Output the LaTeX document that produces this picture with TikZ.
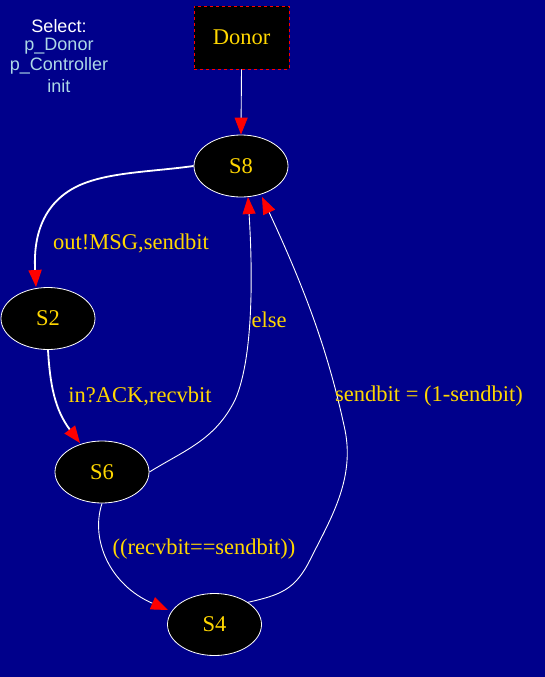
\documentclass[tikz,border=0pt]{standalone}
\usepackage{fontspec}
\setmainfont{Liberation Serif}
\newfontfamily\arialfont{Liberation Sans}
\usetikzlibrary{shapes.geometric,arrows.meta}
\definecolor{bgnavy}{RGB}{0,0,139}
\definecolor{lbl}{RGB}{255,215,0}
\definecolor{selblue}{RGB}{173,216,230}
\tikzset{
  state/.style={ellipse,draw=white,line width=0.8pt,fill=black,minimum width=94pt,minimum height=62pt,inner sep=0pt,text=lbl,font=\fontsize{22.5}{24}\selectfont},
  procbox/.style={rectangle,draw=red,dashed,line width=0.8pt,fill=black,minimum width=95pt,minimum height=63pt,inner sep=0pt,text=lbl,font=\fontsize{22.5}{24}\selectfont},
  redtip/.tip={Triangle[length=17pt,width=13pt,fill=red,color=red]},
  trans/.style={draw=white,line width=0.9pt,-redtip},
  thicktrans/.style={trans,line width=1.8pt},
  elbl/.style={text=lbl,font=\fontsize{22.5}{24}\selectfont,inner sep=0pt},
  seltxt/.style={font=\arialfont\fontsize{18}{20}\selectfont,inner sep=0pt}
}
\begin{document}
\begin{tikzpicture}[x=1pt,y=-1pt]
\fill[bgnavy] (0,0) rectangle (545,677);
\useasboundingbox (0,0) rectangle (545,677);
\node[seltxt,text=white] (sel) at (59,26) {Select:};
\node[seltxt,text=selblue] (pd) at (59,46) {p\_Donor};
\node[seltxt,text=selblue] (pc) at (59,66) {p\_Controller};
\node[seltxt,text=selblue] (pi) at (59,86) {init};

\node[procbox] (donor) at (241.5,37.5) {Donor};
\node[state] (s8) at (241,166) {S8};
\node[state] (s2) at (48,318.5) {S2};
\node[state] (s6) at (102,472) {S6};
\node[state] (s4) at (214.5,624.5) {S4};

\draw[trans] (donor.south) -- (s8.north);
\draw[thicktrans] (s8.west) .. controls (150,172) and (110,172) .. (80,185)
  .. controls (35,205) and (34,250) .. (36,287);
\draw[thicktrans] (s2.south) .. controls (50,385) and (55,410) .. (80,443);
\draw[trans] (s6.east) .. controls (185,450) and (215,440) .. (235,400)
  .. controls (255,355) and (252,260) .. (248,197);
\draw[trans] (s6.south) .. controls (90,540) and (110,585) .. (168,610);
\draw[trans] (s4.north east) .. controls (280,595) and (295,590) .. (310,560)
  .. controls (330,520) and (355,480) .. (345,430)
  .. controls (330,360) and (310,300) .. (262,197);

\node[elbl] (l1) at (131,243) {out!MSG,sendbit};
\node[elbl] (l2) at (140,396) {in?ACK,recvbit};
\node[elbl] (l3) at (269,320) {else};
\node[elbl] (l4) at (204,549) {((recvbit==sendbit))};
\node[elbl] (l5) at (429,396) {sendbit = (1-sendbit)};
\end{tikzpicture}
\end{document}
